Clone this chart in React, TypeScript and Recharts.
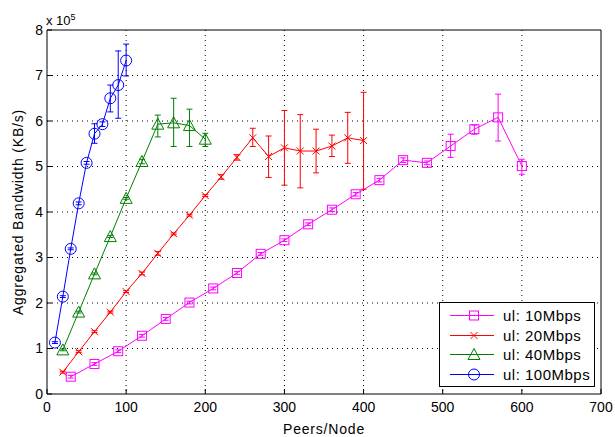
import React from 'react';
import { LineChart, Line, XAxis, YAxis, CartesianGrid, ErrorBar, Legend } from 'recharts';

// peers per node (x) and aggregated bandwidth in units of 1e5 KB/s (y)
const x10 = [30, 60, 90, 120, 150, 180, 210, 240, 270, 300, 330, 360, 390, 420, 450, 480, 510, 540, 570, 600];
const y10 = [0.38, 0.66, 0.94, 1.28, 1.65, 2.01, 2.32, 2.66, 3.08, 3.38, 3.73, 4.05, 4.39, 4.7, 5.14, 5.08, 5.45, 5.82, 6.08, 5.01];
const lo10 = [0.03, 0.03, 0.03, 0.03, 0.03, 0.03, 0.03, 0.03, 0.03, 0.03, 0.03, 0.04, 0.04, 0.04, 0.05, 0.04, 0.25, 0.11, 0.52, 0.18];
const hi10 = [0.03, 0.03, 0.03, 0.03, 0.03, 0.03, 0.03, 0.03, 0.03, 0.03, 0.03, 0.04, 0.04, 0.04, 0.05, 0.04, 0.26, 0.09, 0.51, 0.15];

const x20 = [20, 40, 60, 80, 100, 120, 140, 160, 180, 200, 220, 240, 260, 280, 300, 320, 340, 360, 380, 400];
const y20 = [0.48, 0.93, 1.37, 1.8, 2.25, 2.65, 3.09, 3.52, 3.93, 4.36, 4.77, 5.2, 5.63, 5.22, 5.41, 5.34, 5.34, 5.45, 5.63, 5.57];
const lo20 = [0.02, 0.02, 0.02, 0.02, 0.02, 0.03, 0.04, 0.02, 0.02, 0.02, 0.05, 0.06, 0.19, 0.46, 0.82, 0.81, 0.48, 0.23, 0.56, 1.07];
const hi20 = [0.02, 0.02, 0.02, 0.02, 0.02, 0.03, 0.04, 0.02, 0.02, 0.02, 0.05, 0.06, 0.21, 0.45, 0.82, 0.8, 0.48, 0.24, 0.56, 1.06];

const x40 = [20, 40, 60, 80, 100, 120, 140, 160, 180, 200];
const y40 = [0.97, 1.8, 2.64, 3.46, 4.3, 5.11, 5.93, 5.96, 5.9, 5.6];
const lo40 = [0.02, 0.02, 0.02, 0.02, 0.02, 0.05, 0.28, 0.52, 0.46, 0.16];
const hi40 = [0.02, 0.02, 0.02, 0.02, 0.02, 0.05, 0.2, 0.54, 0.36, 0.13];

const x100 = [10, 20, 30, 40, 50, 60, 70, 80, 90, 100];
const y100 = [1.13, 2.14, 3.19, 4.19, 5.08, 5.72, 5.93, 6.5, 6.79, 7.33];
const lo100 = [0.02, 0.02, 0.02, 0.03, 0.03, 0.21, 0.05, 0.3, 0.73, 0.34];
const hi100 = [0.02, 0.02, 0.02, 0.03, 0.03, 0.22, 0.05, 0.29, 0.75, 0.36];

const xTicks = [0, 100, 200, 300, 400, 500, 600, 700];
const yTicks = [0, 1, 2, 3, 4, 5, 6, 7, 8];

const build = (xs: number[], ys: number[], lo: number[], hi: number[]) =>
  xs.map((x, i) => ({ x, y: ys[i], err: [lo[i], hi[i]] }));

const FONT = '"Liberation Sans", Arial, sans-serif';
const labelStyle = { fill: '#000', fontSize: 14, fontFamily: FONT, letterSpacing: 0.8 };

const Square = (color: string) => (p: any) => (
  <rect key={p.key} x={p.cx - 4.5} y={p.cy - 4.5} width={9} height={9} fill="none" stroke={color} strokeWidth={1} />
);
const Cross = (color: string) => (p: any) => (
  <g key={p.key} stroke={color} strokeWidth={1}>
    <line x1={p.cx - 3.5} y1={p.cy - 3.5} x2={p.cx + 3.5} y2={p.cy + 3.5} />
    <line x1={p.cx - 3.5} y1={p.cy + 3.5} x2={p.cx + 3.5} y2={p.cy - 3.5} />
  </g>
);
const Triangle = (color: string) => (p: any) => (
  <polygon
    key={p.key}
    points={`${p.cx},${p.cy - 6} ${p.cx - 6},${p.cy + 5} ${p.cx + 6},${p.cy + 5}`}
    fill="none"
    stroke={color}
    strokeWidth={1}
  />
);
const Circle = (color: string) => (p: any) => (
  <circle key={p.key} cx={p.cx} cy={p.cy} r={5.5} fill="none" stroke={color} strokeWidth={1} />
);

const series = [
  { name: 'ul: 10Mbps', color: '#ff00ff', data: build(x10, y10, lo10, hi10), dot: Square },
  { name: 'ul: 20Mbps', color: '#ff0000', data: build(x20, y20, lo20, hi20), dot: Cross },
  { name: 'ul: 40Mbps', color: '#008000', data: build(x40, y40, lo40, hi40), dot: Triangle },
  { name: 'ul: 100Mbps', color: '#0000ff', data: build(x100, y100, lo100, hi100), dot: Circle },
];

function LegendBox() {
  return (
    <div
      style={{
        position: 'absolute',
        left: 439,
        top: 302,
        border: '1px solid #000',
        background: '#fff',
        width: 156,
        height: 85,
        paddingTop: 3,
        boxSizing: 'border-box',
        fontFamily: FONT,
        fontSize: 15,
        letterSpacing: 0.5,
      }}
    >
      {series.map((s) => (
        <div key={s.name} style={{ display: 'flex', alignItems: 'center', height: 19.5 }}>
          <svg width={58} height={19} style={{ marginLeft: 5, flex: 'none' }}>
            <line x1={5} y1={9.5} x2={49} y2={9.5} stroke={s.color} strokeWidth={1} />
            {s.dot(s.color)({ cx: 29, cy: 9.5, key: 'm' })}
          </svg>
          <span style={{ whiteSpace: 'nowrap' }}>{s.name}</span>
        </div>
      ))}
    </div>
  );
}

export default function App() {
  return (
    <div style={{ position: 'fixed', left: 0, top: 0, width: 615, height: 437, background: '#fff' }}>
      <LineChart width={615} height={437} margin={{ top: 29, right: 13, left: 0, bottom: 0 }}>
        <CartesianGrid stroke="#000" strokeDasharray="1 4" horizontalValues={[1, 2, 3, 4, 5, 6, 7]} verticalValues={[100, 200, 300, 400, 500, 600]} />
        <XAxis
          type="number"
          dataKey="x"
          domain={[0, 700]}
          ticks={xTicks}
          height={43}
          tickSize={-5}
          tickMargin={13}
          stroke="#000"
          tick={{ fill: '#000', fontSize: 14, fontFamily: FONT }}
          label={{ value: 'Peers/Node', position: 'insideBottom', offset: 3, ...labelStyle }}
        />
        <XAxis xAxisId="top" orientation="top" type="number" domain={[0, 700]} ticks={xTicks} height={1} tickSize={-5} stroke="#000" tick={() => <g />} />
        <YAxis
          type="number"
          domain={[0, 8]}
          ticks={yTicks}
          width={47}
          tickSize={-5}
          tickMargin={9}
          stroke="#000"
          tick={{ fill: '#000', fontSize: 14, fontFamily: FONT }}
          label={{ value: 'Aggregated Bandwidth (KB/s)', angle: -90, position: 'center', dx: -5, ...labelStyle }}
        />
        <YAxis yAxisId="right" orientation="right" type="number" domain={[0, 8]} ticks={yTicks} width={1} tickSize={-5} stroke="#000" tick={() => <g />} />
        {series.map((s) => (
          <Line
            key={s.name}
            data={s.data}
            dataKey="y"
            name={s.name}
            stroke={s.color}
            strokeWidth={1}
            dot={s.dot(s.color)}
            activeDot={false}
            isAnimationActive={false}
          >
            <ErrorBar dataKey="err" width={3} stroke={s.color} strokeWidth={1} direction="y" />
          </Line>
        ))}
        <Legend
          content={<LegendBox />}
          layout="vertical"
          align="center"
          verticalAlign="middle"
          wrapperStyle={{ left: 0, top: 0, width: 0, height: 0 }}
        />
      </LineChart>
      <div style={{ position: 'absolute', left: 46, top: 12, fontFamily: FONT, fontSize: 13 }}>
        x 10<sup style={{ fontSize: 9 }}>5</sup>
      </div>
    </div>
  );
}
